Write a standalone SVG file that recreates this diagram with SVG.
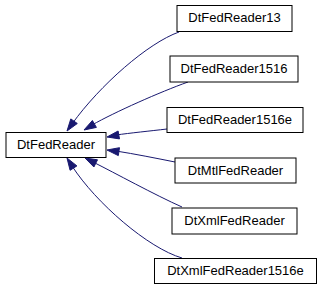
<svg xmlns="http://www.w3.org/2000/svg" width="320" height="291" viewBox="0 0 320 291">
<defs>
<style>
.box{fill:#ffffff;stroke:#000000;stroke-width:1}
.lbl{font-family:"Liberation Sans",Arial,sans-serif;font-size:13px;fill:#000000;text-anchor:middle}
.edge{fill:none;stroke:#191970;stroke-width:1}
.head{fill:#191970;stroke:#191970;stroke-width:1;stroke-linejoin:miter}
</style>
</defs>
<rect width="320" height="291" fill="#ffffff"/>
<g id="connectors">
<path class="edge" d="M179,32 C148,43 100,85 72,124"/>
<polygon class="head" points="67,131 77.3,123.5 70.8,118.9"/>
<path class="edge" d="M188,82 C160,92 115,112 92,125"/>
<polygon class="head" points="84,130 96.4,127.4 92.4,120.5"/>
<path class="edge" d="M167,129 C150,131 130,133 116,135"/>
<polygon class="head" points="107,137 119.5,138.9 118.1,131"/>
<path class="edge" d="M175,162 C155,158 135,154 116,151"/>
<polygon class="head" points="107,150 118.3,155.6 119.5,147.7"/>
<path class="edge" d="M182,207 C155,195 115,173 93,162"/>
<polygon class="head" points="85,158 93.9,167 97.5,159.8"/>
<path class="edge" d="M182,258 C148,248 96,203 72,166"/>
<polygon class="head" points="67,158 70.1,170.3 76.9,165.9"/>
</g>
<g id="DtFedReader"><rect class="box" x="6" y="132.5" width="100" height="25"/><text class="lbl" x="56" y="149">DtFedReader</text></g>
<g id="DtFedReader13"><rect class="box" x="177" y="5.5" width="115" height="26"/><text class="lbl" x="234.5" y="22">DtFedReader13</text></g>
<g id="DtFedReader1516"><rect class="box" x="170" y="56" width="128" height="26"/><text class="lbl" x="234" y="72.5">DtFedReader1516</text></g>
<g id="DtFedReader1516e"><rect class="box" x="167" y="107.5" width="136" height="25"/><text class="lbl" x="235" y="124">DtFedReader1516e</text></g>
<g id="DtMtlFedReader"><rect class="box" x="175" y="158" width="121" height="25"/><text class="lbl" x="235.5" y="174.5">DtMtlFedReader</text></g>
<g id="DtXmlFedReader"><rect class="box" x="172" y="208" width="125" height="26"/><text class="lbl" x="234.5" y="224.5">DtXmlFedReader</text></g>
<g id="DtXmlFedReader1516e"><rect class="box" x="154.5" y="258.5" width="162" height="25"/><text class="lbl" x="235.5" y="275">DtXmlFedReader1516e</text></g>
</svg>
